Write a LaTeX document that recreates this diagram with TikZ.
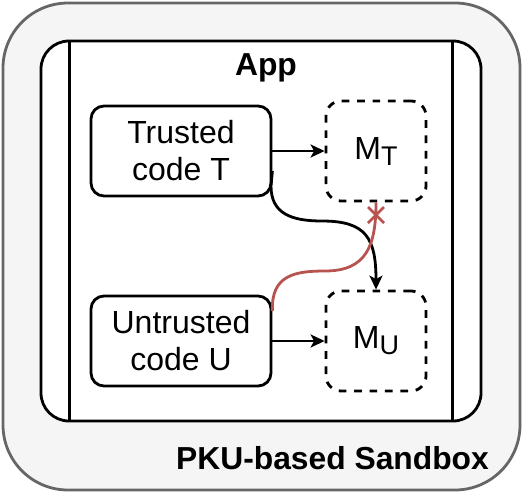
\documentclass[tikz,border=0pt]{standalone}
\usepackage{fontspec}
\setmainfont{Liberation Sans}
\usetikzlibrary{arrows.meta}
\definecolor{sbfill}{HTML}{F5F5F5}
\definecolor{sbdraw}{HTML}{666666}
\definecolor{redl}{HTML}{B85450}
\begin{document}
\begin{tikzpicture}[x=1pt,y=-1pt,line width=2.8pt,
  txt/.style={font=\fontsize{32}{37}\selectfont},
  codebox/.style={draw,rounded corners=13pt,minimum width=180pt,minimum height=90pt,align=center,fill=white,inner sep=0pt,txt},
  mem/.style={draw,dash pattern=on 7.7pt off 7.7pt,rounded corners=15pt,minimum width=100pt,minimum height=100pt,inner sep=0pt,txt},
  arr/.style={-{Stealth[length=14pt,width=13pt,inset=3.5pt]}},
  lbl/.style={font=\fontsize{31.8}{37}\selectfont\bfseries,inner sep=0pt}]
\useasboundingbox (0,0) rectangle (523,493);
\node[draw=sbdraw,fill=sbfill,rounded corners=65pt,minimum width=517pt,minimum height=487pt,inner sep=0pt] (sandbox) at (261.5,246.5) {};
\node[draw,fill=white,rounded corners=28pt,minimum width=440pt,minimum height=380pt,inner sep=0pt] (app) at (261,231) {};
\draw ([xshift=30pt]app.north west) -- ([xshift=30pt]app.south west);
\draw ([xshift=-30pt]app.north east) -- ([xshift=-30pt]app.south east);
\node[lbl] (apptitle) at (266,68) {App};
\node[lbl] (sblabel) at (332.5,458) {PKU-based Sandbox};
\node[codebox] (T) at (181,151) {Trusted\\code T};
\node[codebox] (U) at (181,341) {Untrusted\\code U};
\node[mem] (MT) at (376,151) {M\raisebox{-6pt}{\fontsize{27}{27}\selectfont T}};
\node[mem] (MU) at (376,341) {M\raisebox{-6pt}{\fontsize{27}{27}\selectfont U}};
\draw[arr] (T.east) -- (MT.west);
\draw[arr] (U.east) -- (MU.west);
\draw[arr] ([yshift=-20pt]T.east) -- (271,186) .. controls (271,214) and (292,221) .. (322,221) .. controls (366,221) and (376,238) .. (MU.north);
\draw[redl] ([yshift=30pt]U.east) .. controls (271,275) and (295,271) .. (325,271) .. controls (367,271) and (376,245) .. (MT.south);
\coordinate (xm) at (376,215);
\draw[redl] ([shift={(-8pt,8pt)}]xm) -- ([shift={(8pt,-8pt)}]xm);
\draw[redl] ([shift={(-8pt,-8pt)}]xm) -- ([shift={(8pt,8pt)}]xm);
\end{tikzpicture}
\end{document}
